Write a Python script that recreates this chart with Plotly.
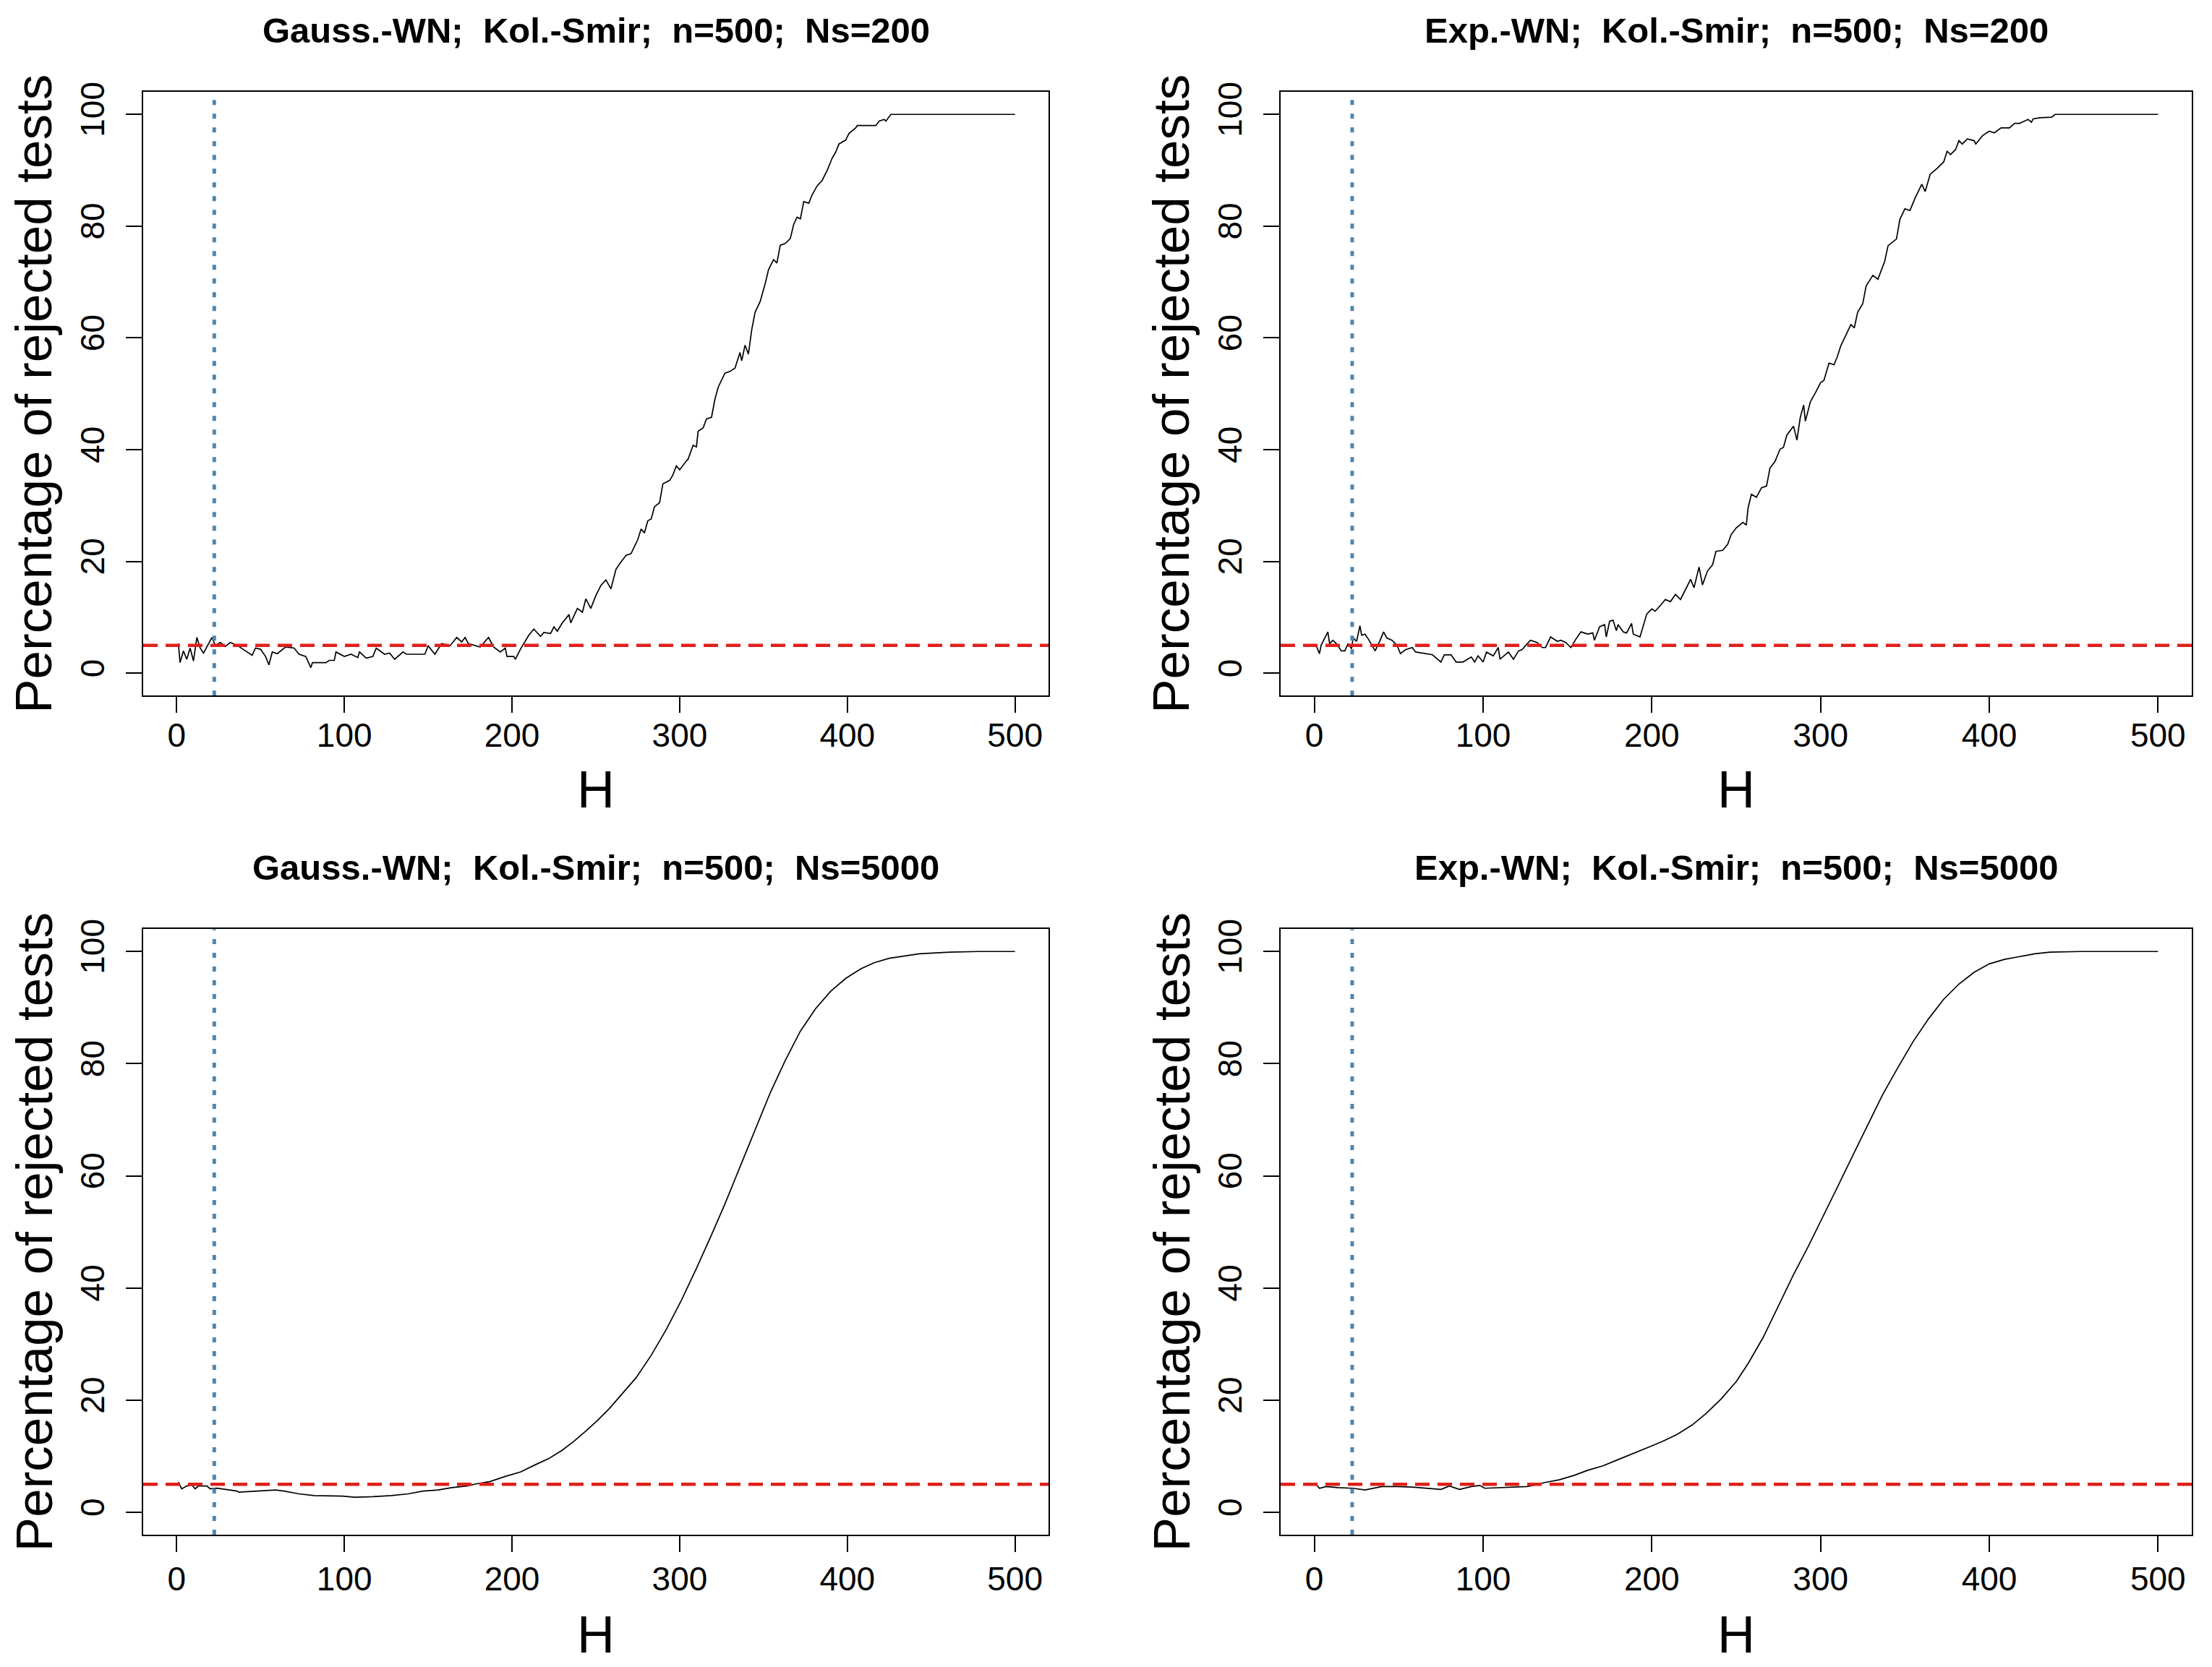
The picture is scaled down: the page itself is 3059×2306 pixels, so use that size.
import plotly.graph_objects as go

# ---------------- data ----------------
titles = [
    "Gauss.-WN;\u00a0 Kol.-Smir;\u00a0 n=500;\u00a0 Ns=200",
    "Exp.-WN;\u00a0 Kol.-Smir;\u00a0 n=500;\u00a0 Ns=200",
    "Gauss.-WN;\u00a0 Kol.-Smir;\u00a0 n=500;\u00a0 Ns=5000",
    "Exp.-WN;\u00a0 Kol.-Smir;\u00a0 n=500;\u00a0 Ns=5000",
]
x_label = "H"
y_label = "Percentage of rejected tests"
x_ticks = [0, 100, 200, 300, 400, 500]
y_ticks = [0, 20, 40, 60, 80, 100]
nominal_level = 5          # red dashed line
h_marker = 22.4            # blue dotted vertical line

h_gauss_200 = [1, 2, 4, 6, 8, 10, 12, 14, 16, 18, 21, 23, 26, 29, 32, 36, 40, 42, 45, 47,
               50, 53, 55, 57, 60, 65, 70, 73, 77, 80, 81, 89, 91, 94, 95, 100, 104, 108, 109, 113,
               117, 119, 124, 127, 130, 135, 137, 148, 150, 154, 158, 163, 167, 170, 172, 174, 179, 181, 186, 189,
               193, 196, 197, 201, 202, 205, 210, 213, 217, 219, 223, 225, 227, 230, 234, 235, 239, 242, 244, 247,
               250, 253, 256, 259, 262, 264, 268, 271, 275, 277, 279, 281, 283, 285, 288, 290, 294, 296, 298, 300,
               304, 305, 308, 310, 311, 314, 316, 319, 321, 323, 327, 330, 333, 336, 337, 339, 341, 343, 345, 348,
               351, 353, 356, 358, 360, 363, 366, 368, 370, 372, 374, 377, 379, 382, 385, 388, 391, 393, 395, 399,
               401, 405, 406, 417, 419, 422, 423, 426, 500]
p_gauss_200 = [5.3, 1.9, 4.0, 2.5, 4.5, 2.2, 6.4, 4.5, 3.6, 4.8, 6.4, 5.0, 5.5, 4.8, 5.5, 5.0, 4.2, 3.8, 3.2, 4.5,
               4.3, 3.0, 1.5, 3.8, 3.5, 4.7, 4.5, 3.4, 3.0, 1.0, 1.9, 1.9, 2.3, 2.3, 3.8, 3.0, 3.4, 2.8, 3.8, 2.7,
               3.0, 4.5, 3.4, 3.6, 2.5, 3.8, 3.4, 3.4, 4.9, 3.4, 5.3, 4.9, 6.4, 5.6, 6.4, 5.3, 4.9, 4.7, 6.4, 4.7,
               3.8, 4.5, 3.0, 3.0, 2.5, 4.3, 6.8, 7.9, 6.6, 7.3, 7.1, 8.3, 7.5, 9.0, 10.5, 9.0, 11.6, 10.9, 13.3, 11.6,
               13.9, 15.7, 16.7, 15.1, 18.6, 19.5, 21.1, 21.4, 23.9, 25.8, 25.1, 27.3, 27.6, 29.8, 30.5, 33.9, 34.5, 35.5, 37.1, 36.4,
               38.0, 38.3, 40.8, 40.5, 43.3, 43.9, 45.5, 45.8, 49.0, 51.2, 53.7, 54.0, 54.6, 57.4, 55.9, 58.7, 57.1, 61.5, 64.6, 66.5,
               69.7, 72.2, 74.0, 73.4, 76.6, 76.9, 77.8, 80.3, 81.6, 81.3, 84.4, 84.1, 85.6, 87.2, 88.2, 90.0, 92.2, 93.2, 94.7, 95.4,
               96.6, 97.6, 98.0, 98.0, 98.8, 99.1, 98.8, 100.0, 100.0]

h_exp_200 = [1, 3, 4, 8, 9, 11, 13, 16, 18, 20, 22, 23, 25, 27, 28, 30, 32, 34, 36, 39,
             41, 43, 46, 49, 51, 54, 58, 60, 66, 70, 75, 77, 81, 84, 88, 93, 95, 97, 100, 102,
             106, 109, 110, 115, 118, 121, 123, 128, 132, 135, 137, 140, 144, 146, 149, 152, 155, 158, 162, 165,
             166, 169, 172, 173, 175, 177, 179, 180, 183, 185, 188, 189, 193, 195, 197, 200, 202, 205, 208, 211,
             214, 217, 220, 223, 225, 228, 230, 233, 236, 238, 242, 245, 247, 250, 254, 256, 257, 259, 262, 265,
             268, 270, 273, 276, 278, 280, 284, 286, 288, 290, 291, 294, 297, 300, 302, 305, 308, 310, 312, 315,
             318, 320, 322, 325, 327, 331, 334, 338, 340, 345, 347, 350, 353, 356, 360, 362, 365, 369, 373, 375,
             377, 380, 382, 384, 387, 391, 392, 396, 400, 403, 407, 412, 415, 418, 423, 425, 426, 430, 437, 439, 500]
p_exp_200 = [5.0, 3.5, 5.0, 7.4, 5.3, 5.9, 5.3, 4.0, 4.0, 5.3, 4.4, 6.3, 5.7, 8.5, 6.8, 7.0, 6.1, 5.0, 4.0, 5.9,
             7.4, 6.3, 5.9, 5.0, 3.5, 4.2, 4.6, 3.8, 3.5, 3.3, 2.0, 3.3, 3.3, 2.0, 2.0, 2.9, 2.0, 3.1, 2.0, 3.8,
             3.1, 4.6, 2.5, 3.8, 2.5, 4.0, 4.2, 5.9, 5.5, 4.6, 4.6, 6.5, 5.7, 5.9, 5.5, 4.6, 6.1, 7.4, 7.0, 7.2,
             5.9, 8.3, 8.7, 6.5, 9.3, 9.5, 7.6, 8.7, 7.4, 7.2, 8.9, 7.0, 6.5, 8.5, 10.6, 11.5, 11.1, 12.1, 13.2, 12.8,
             14.1, 13.2, 14.9, 16.8, 15.3, 19.0, 15.8, 18.3, 19.4, 21.8, 22.0, 23.1, 24.8, 26.0, 27.0, 26.5, 29.5, 32.0, 31.5, 33.2,
             33.5, 36.7, 37.9, 40.1, 40.4, 42.6, 44.2, 41.7, 45.8, 48.0, 45.1, 48.6, 50.2, 52.0, 52.4, 55.5, 55.2, 56.7, 58.6, 60.5,
             62.4, 61.8, 64.6, 66.1, 69.3, 71.2, 70.5, 73.7, 76.5, 77.7, 81.2, 83.1, 82.8, 85.0, 87.5, 86.2, 89.3, 90.3, 91.5, 93.4,
             92.8, 93.7, 95.3, 94.7, 95.6, 95.3, 94.7, 96.2, 97.0, 96.7, 97.6, 97.6, 98.4, 98.4, 99.1, 98.6, 99.2, 99.4, 99.5, 100.0, 100.0]

h_gauss_5000 = [1, 3, 6, 9, 11, 13, 18, 20, 24, 29, 36, 37, 47, 59, 64, 73, 82, 91, 99, 106,
                117, 128, 138, 147, 156, 164, 173, 179, 187, 196, 205, 214, 222, 230, 237, 244, 251, 258, 265, 274,
                283, 292, 301, 310, 319, 327, 336, 345, 354, 363, 372, 381, 390, 399, 408, 416, 425, 443, 461, 478, 500]
p_gauss_5000 = [5.4, 4.2, 4.7, 4.9, 4.2, 4.7, 4.7, 4.2, 4.3, 4.1, 3.8, 3.6, 3.8, 4.0, 3.8, 3.3, 3.0, 2.9, 2.9, 2.7,
                2.8, 3.0, 3.3, 3.8, 4.0, 4.4, 4.7, 5.1, 5.5, 6.4, 7.2, 8.5, 9.6, 11.1, 12.7, 14.5, 16.4, 18.5, 20.9, 24.0,
                28.0, 32.6, 37.8, 43.5, 49.5, 55.0, 61.6, 68.3, 74.8, 80.6, 85.8, 89.8, 92.9, 95.2, 96.9, 98.0, 98.8, 99.6, 99.9, 100.0, 100.0]

h_exp_5000 = [1, 3, 7, 14, 23, 30, 40, 49, 58, 66, 75, 80, 86, 93, 98, 101, 110, 119, 126, 133,
              136, 145, 154, 162, 171, 180, 189, 197, 206, 215, 224, 232, 241, 250, 257, 266, 275, 284, 293, 302,
              311, 320, 329, 337, 346, 355, 364, 373, 382, 391, 400, 409, 418, 427, 436, 454, 500]
p_exp_5000 = [5.0, 4.3, 4.6, 4.4, 4.3, 4.0, 4.6, 4.6, 4.5, 4.3, 4.1, 4.7, 4.1, 4.6, 4.8, 4.3, 4.4, 4.5, 4.6, 5.0,
              5.3, 5.8, 6.6, 7.5, 8.3, 9.4, 10.5, 11.5, 12.6, 13.9, 15.6, 17.6, 20.2, 23.3, 26.5, 31.2, 36.8, 42.4, 47.6, 53.0,
              58.6, 64.2, 69.8, 74.6, 79.4, 84.0, 88.0, 91.5, 94.2, 96.3, 97.8, 98.6, 99.1, 99.6, 99.9, 100.0, 100.0]

# ---------------- layout geometry (pixels) ----------------
W, HT = 3059, 2306
x_range = [-20, 520]
y_range = [-4, 104]
# (left, right, top, bottom) of each plot box
boxes = [(198, 1450, 114, 954), (1771, 3031, 114, 954),
         (198, 1450, 1279, 2122), (1771, 3031, 1279, 2122)]
label_gap = [131, 131, 139, 139]     # box bottom -> centre of "H"
tick_standoff = [-8, -8, -2, -2]

series = [(h_gauss_200, p_gauss_200), (h_exp_200, p_exp_200),
          (h_gauss_5000, p_gauss_5000), (h_exp_5000, p_exp_5000)]

FONT = "Liberation Sans, Arial, sans-serif"
fig = go.Figure()
annotations = []
layout_axes = {}

for i, ((hx, py), (l, r, t, b), title) in enumerate(zip(series, boxes, titles)):
    sfx = "" if i == 0 else str(i + 1)
    xa, ya = "x" + sfx, "y" + sfx
    # curve
    fig.add_trace(go.Scatter(x=hx, y=py, mode="lines", xaxis=xa, yaxis=ya,
                             line=dict(color="black", width=1.7), showlegend=False,
                             hoverinfo="skip"))
    # nominal level (red dashed)
    fig.add_trace(go.Scatter(x=x_range, y=[nominal_level, nominal_level], mode="lines",
                             xaxis=xa, yaxis=ya, showlegend=False, hoverinfo="skip",
                             line=dict(color="#E0201B", width=4.5, dash="20px,11px")))
    # vertical dotted marker
    fig.add_trace(go.Scatter(x=[h_marker, h_marker], y=y_range, mode="lines",
                             xaxis=xa, yaxis=ya, showlegend=False, hoverinfo="skip",
                             line=dict(color="#4F86B0", width=5, dash="7px,12px")))

    xd = [l / W, r / W]
    yd = [1 - b / HT, 1 - t / HT]
    common = dict(showgrid=False, zeroline=False, showline=True, mirror=True,
                  linecolor="black", linewidth=2, ticks="outside", ticklen=22,
                  tickwidth=2, tickcolor="black",
                  tickfont=dict(family=FONT, size=46, color="black"))
    layout_axes["xaxis" + sfx] = dict(domain=xd, range=x_range, anchor=ya,
                                      tickmode="array", tickvals=x_ticks,
                                      ticklabelstandoff=tick_standoff[i], **common)
    layout_axes["yaxis" + sfx] = dict(domain=yd, range=y_range, anchor=xa,
                                      tickmode="array", tickvals=y_ticks,
                                      tickangle=-90, ticklabelstandoff=12, **common)

    cx = (l + r) / 2
    # panel title
    annotations.append(dict(text="<b>" + title + "</b>", x=cx / W, y=1 - (t - 86) / HT,
                            xref="paper", yref="paper", showarrow=False,
                            xanchor="center", yanchor="middle",
                            font=dict(family=FONT, size=49, color="black")))
    # x label
    annotations.append(dict(text=x_label, x=cx / W, y=1 - (b + label_gap[i]) / HT,
                            xref="paper", yref="paper", showarrow=False,
                            xanchor="center", yanchor="middle", height=62,
                            font=dict(family=FONT, size=72, color="black")))
    # y label
    annotations.append(dict(text=y_label, x=(l - 151) / W, y=1 - ((t + b) / 2) / HT,
                            xref="paper", yref="paper", showarrow=False, textangle=-90,
                            xanchor="center", yanchor="middle",
                            font=dict(family=FONT, size=71, color="black")))

fig.update_layout(width=W, height=HT, margin=dict(l=0, r=0, t=0, b=0),
                  paper_bgcolor="white", plot_bgcolor="white",
                  annotations=annotations, showlegend=False, **layout_axes)

fig.write_html("out.html", config={"displayModeBar": False},
               post_script="document.body.style.margin='0';")
